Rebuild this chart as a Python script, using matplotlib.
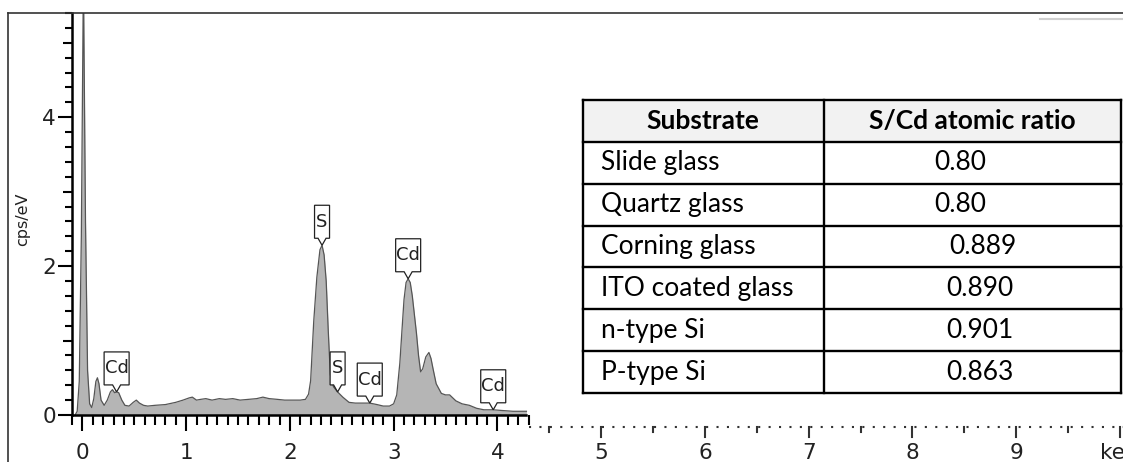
import matplotlib
matplotlib.use('Agg')
import matplotlib.pyplot as plt
import matplotlib.transforms as mtransforms
from matplotlib.patches import Polygon, Rectangle
from matplotlib.lines import Line2D

# EDS spectrum (keV, cps/eV)
energy = [-0.07, -0.05, -0.03, -0.01, 0.01, 0.03, 0.05, 0.07, 0.09, 0.11, 0.13, 0.145,
          0.16, 0.18, 0.21, 0.24, 0.27, 0.29, 0.31, 0.33, 0.35, 0.38, 0.41, 0.45, 0.49,
          0.52, 0.55, 0.59, 0.63, 0.7, 0.8, 0.9, 0.97, 1.03, 1.06, 1.1, 1.14, 1.19, 1.25,
          1.32, 1.38, 1.45, 1.52, 1.6, 1.68, 1.74, 1.8, 1.88, 1.95, 2.02, 2.1, 2.15, 2.18,
          2.2, 2.23, 2.26, 2.29, 2.31, 2.33, 2.35, 2.37, 2.39, 2.42, 2.46, 2.51, 2.57,
          2.63, 2.7, 2.77, 2.84, 2.9, 2.96, 3.0, 3.03, 3.06, 3.08, 3.1, 3.12, 3.14, 3.16,
          3.18, 3.2, 3.22, 3.24, 3.26, 3.28, 3.31, 3.34, 3.36, 3.38, 3.41, 3.46, 3.5,
          3.54, 3.57, 3.6, 3.66, 3.73, 3.8, 3.87, 3.96, 4.05, 4.15, 4.22, 4.28]
counts = [0.0, 0.05, 0.45, 2.4, 5.9, 2.6, 0.6, 0.15, 0.1, 0.22, 0.45, 0.5,
          0.42, 0.2, 0.13, 0.2, 0.31, 0.34, 0.3, 0.31, 0.3, 0.2, 0.13, 0.12, 0.17,
          0.2, 0.16, 0.13, 0.12, 0.13, 0.14, 0.17, 0.2, 0.23, 0.24, 0.2, 0.21, 0.22, 0.2,
          0.22, 0.21, 0.22, 0.2, 0.21, 0.22, 0.24, 0.22, 0.21, 0.2, 0.2, 0.2, 0.21, 0.28,
          0.46, 1.26, 1.85, 2.22, 2.28, 2.15, 1.8, 1.13, 0.54, 0.38, 0.31, 0.24, 0.17,
          0.16, 0.16, 0.16, 0.14, 0.12, 0.12, 0.15, 0.27, 0.7, 1.13, 1.55, 1.78, 1.83, 1.78,
          1.6, 1.35, 1.1, 0.8, 0.58, 0.62, 0.78, 0.84, 0.76, 0.62, 0.42, 0.29, 0.27,
          0.27, 0.23, 0.19, 0.15, 0.13, 0.09, 0.07, 0.07, 0.06, 0.05, 0.05, 0.05]

# peak markers
peak_names = ['Cd', 'S', 'S', 'Cd', 'Cd', 'Cd']
peak_x = [0.33, 2.31, 2.46, 2.77, 3.14, 3.96]
peak_y = [0.31, 2.28, 0.31, 0.16, 1.83, 0.07]

x_ticks = [0, 1, 2, 3, 4, 5, 6, 7, 8, 9, 10]
x_tick_labels = ['0', '1', '2', '3', '4', '5', '6', '7', '8', '9', 'keV']
y_ticks = [0, 1, 2, 3, 4, 5]
y_tick_labels = ['0', '', '2', '', '4', '']

# inset table
headers = ['Substrate', 'S/Cd atomic ratio']
substrates = ['Slide glass', 'Quartz glass', 'Corning glass', 'ITO coated glass',
              'n-type Si', 'P-type Si']
ratios = ['0.80', '0.80', '0.889', '0.890', '0.901', '0.863']

W, H = 1123, 462
plt.rcParams['font.family'] = ['Liberation Sans Narrow', 'DejaVu Sans']
fig = plt.figure(figsize=(W / 100, H / 100), dpi=100)


def px_box(left, top, right, bottom):
    return [left / W, 1 - bottom / H, (right - left) / W, (bottom - top) / H]


ax = fig.add_axes(px_box(72, 13, 1123, 415))
ax.fill_between(energy, counts, 0, color='#b5b5b5', lw=0)
ax.plot(energy, counts, color='#555555', lw=0.9)


# callout boxes with a little pointer at the bottom (sizes in pixels)
def callout(x, y, text):
    w = 15 if len(text) == 1 else 25
    h, p, hw = 33, 7, 4
    verts = [(0, 0), (-hw, p), (-w / 2, p), (-w / 2, p + h), (w / 2, p + h),
             (w / 2, p), (hw, p)]
    tr = mtransforms.Affine2D() + mtransforms.ScaledTranslation(x, y, ax.transData)
    ax.add_patch(Polygon(verts, closed=True, transform=tr, fc='white', ec='#222222',
                         lw=0.9, zorder=5, clip_on=False))
    ax.text(0, p + h / 2, text, transform=tr, ha='center', va='center',
            fontsize=13, color='#222222', zorder=6, clip_on=False)


for name, xv, yv in zip(peak_names, peak_x, peak_y):
    callout(xv, yv, name)

ax.set_xlim(-0.1, 10.03)
ax.set_ylim(0, 5.4)

for s in ['top', 'right']:
    ax.spines[s].set_visible(False)
ax.spines['left'].set_linewidth(1.8)
ax.spines['bottom'].set_linewidth(1.8)
ax.spines['bottom'].set_bounds(-0.1, 4.28)

ax.set_xticks(x_ticks, x_tick_labels)
ax.set_xticks([round(-0.1 + 0.1 * i, 1) for i in range(45) if i % 10 != 1], minor=True)
ax.set_yticks(y_ticks, y_tick_labels)
ax.set_yticks([round(0.2 * i, 1) for i in range(1, 28) if i % 5 != 0], minor=True)
ax.tick_params(axis='x', which='major', direction='out', length=11.5, width=1.5,
               pad=8.5, labelsize=15.5, labelcolor='#222222')
ax.tick_params(axis='x', which='minor', direction='out', length=7, width=1.5)
ax.tick_params(axis='y', which='major', direction='out', length=10, width=1.5,
               pad=1.5, labelsize=15.5, labelcolor='#222222')
ax.tick_params(axis='y', which='minor', direction='out', length=5, width=1.5)
for t in ax.xaxis.get_major_ticks()[5:]:
    t.tick1line.set_visible(False)
for t in ax.yaxis.get_major_ticks()[1::2]:
    t.tick1line.set_markersize(6.5)

ax.set_ylabel('cps/eV', family='DejaVu Sans', fontsize=11.5, color='#222222')
ax.yaxis.set_label_coords(30 / W, 1 - 219 / H, transform=fig.transFigure)

# dotted continuation of the energy axis
bt = mtransforms.blended_transform_factory(ax.transData, mtransforms.IdentityTransform())
ax.plot([4.3, 10.03], [H - 427, H - 427], transform=bt, ls=(0, (1, 4)),
        color='#333333', lw=1.5, clip_on=False)
for xv in x_ticks[5:]:
    ax.plot([xv, xv], [H - 427, H - 437], transform=bt, color='#333333', lw=1.5,
            clip_on=False)
for xv in [4.5, 5.5, 6.5, 7.5, 8.5, 9.5]:
    ax.plot([xv, xv], [H - 427, H - 432], transform=bt, color='#333333', lw=1.5,
            clip_on=False)

# frame of the original figure
ident = mtransforms.IdentityTransform()
fig.add_artist(Line2D([8, 8], [0, H - 12.5], transform=ident, color='#333333', lw=1.2))
fig.add_artist(Line2D([8, W], [H - 12.5, H - 12.5], transform=ident, color='#333333', lw=1.2))
fig.add_artist(Line2D([1040, W], [H - 19, H - 19], transform=ident, color='#d0d0d0', lw=1.5))

# table overlay in pixel coordinates
tab = fig.add_axes([0, 0, 1, 1])
tab.set_xlim(0, W)
tab.set_ylim(H, 0)
tab.axis('off')

x0, x1, x2 = 583, 824, 1121
y_top, y_bot = 100, 393
n_rows = len(substrates) + 1
rh = (y_bot - y_top) / n_rows
tab.add_patch(Rectangle((x0, y_top), x2 - x0, rh, fc='#f2f2f2', lw=0))
for i in range(n_rows + 1):
    tab.plot([x0, x2], [y_top + i * rh] * 2, color='black', lw=1.7,
             solid_capstyle='projecting')
for xv in [x0, x1, x2]:
    tab.plot([xv, xv], [y_top, y_bot], color='black', lw=1.7, solid_capstyle='projecting')

tfont = ['Lato', 'DejaVu Sans']
tab.text(703, y_top + rh / 2, headers[0], ha='center', va='center', fontsize=19,
         fontweight='bold', family=tfont)
tab.text(972, y_top + rh / 2, headers[1], ha='center', va='center', fontsize=19,
         fontweight='bold', family=tfont)
value_x = [960, 960, 983, 980, 980, 980]
for i, (sub, r) in enumerate(zip(substrates, ratios)):
    yc = y_top + (i + 1.5) * rh
    tab.text(601, yc, sub, ha='left', va='center', fontsize=19, family=tfont)
    tab.text(value_x[i], yc, r, ha='center', va='center', fontsize=19, family=tfont)

fig.savefig('out.png', dpi=100)
